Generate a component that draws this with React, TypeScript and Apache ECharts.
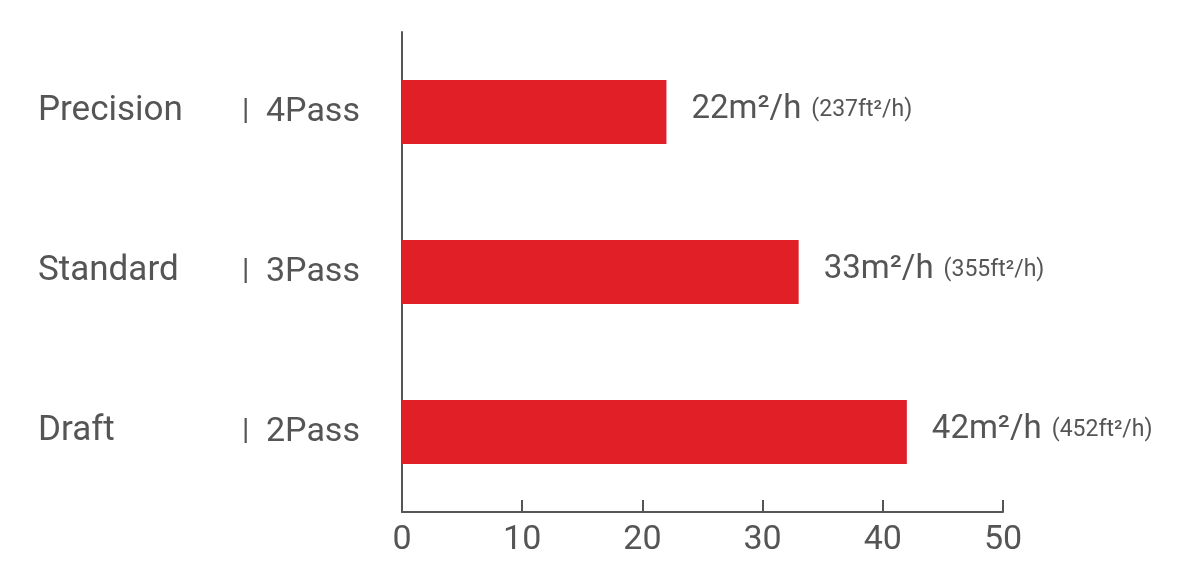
import React, { useEffect, useRef } from "react";
import * as echarts from "echarts";

const modes = ["Precision", "Standard", "Draft"];
const passes = ["4Pass", "3Pass", "2Pass"];
const rates = [22, 33, 42];
const rateLabels = ["22m²/h", "33m²/h", "42m²/h"];
const imperialLabels = ["(237ft²/h)", "(355ft²/h)", "(452ft²/h)"];
const xTicks = [0, 10, 20, 30, 40, 50];

const FONT = "Roboto, 'Noto Sans', sans-serif";
const GREY = "#555555";

export default function App() {
  const ref = useRef<HTMLDivElement>(null);
  useEffect(() => {
    document.body.style.margin = "0";
    const chart = echarts.init(ref.current!, undefined, { renderer: "svg" });
    chart.setOption({
      animation: false,
      grid: { left: 402, right: 190, top: 32, bottom: 70, containLabel: false },
      xAxis: {
        type: "value",
        min: xTicks[0],
        max: xTicks[xTicks.length - 1],
        interval: 10,
        axisLine: { show: true, lineStyle: { color: GREY, width: 2 } },
        axisTick: { show: true, inside: true, length: 12, lineStyle: { color: GREY, width: 2 } },
        splitLine: { show: false },
        axisLabel: { color: GREY, fontSize: 34, fontFamily: FONT, margin: 8 },
      },
      yAxis: {
        type: "category",
        inverse: true,
        data: modes,
        axisLine: { show: true, lineStyle: { color: GREY, width: 2 } },
        axisTick: { show: false },
        axisLabel: {
          margin: 42,
          align: "right",
          formatter: (v: string, i: number) => `{a|${v}}{b||}{c|${passes[i]}}`,
          rich: {
            a: { width: 204, align: "left", color: GREY, fontSize: 35, fontFamily: FONT, padding: [0, 0, 7, 0] },
            b: { width: 24, align: "left", color: GREY, fontSize: 30, fontFamily: FONT, padding: [0, 0, 7, 0] },
            c: { width: 94, align: "left", color: GREY, fontSize: 34, fontFamily: FONT, padding: [0, 0, 7, 0] },
          },
        },
      },
      series: [
        {
          type: "bar",
          data: rates,
          barWidth: 64,
          itemStyle: { color: "#e01f27" },
          label: {
            show: true,
            position: "right",
            distance: 25,
            offset: [0, -6],
            formatter: (p: any) => `{big|${rateLabels[p.dataIndex]}}{gap|}{small|${imperialLabels[p.dataIndex]}}`,
            rich: {
              big: { fontSize: 33, color: GREY, fontFamily: FONT },
              gap: { width: 10 },
              small: { fontSize: 23, color: GREY, fontFamily: FONT, padding: [4, 0, 0, 0] },
            },
          },
        },
      ],
    });
    return () => chart.dispose();
  }, []);
  return <div ref={ref} style={{ position: "fixed", left: 0, top: 0, width: 1193, height: 582 }} />;
}
